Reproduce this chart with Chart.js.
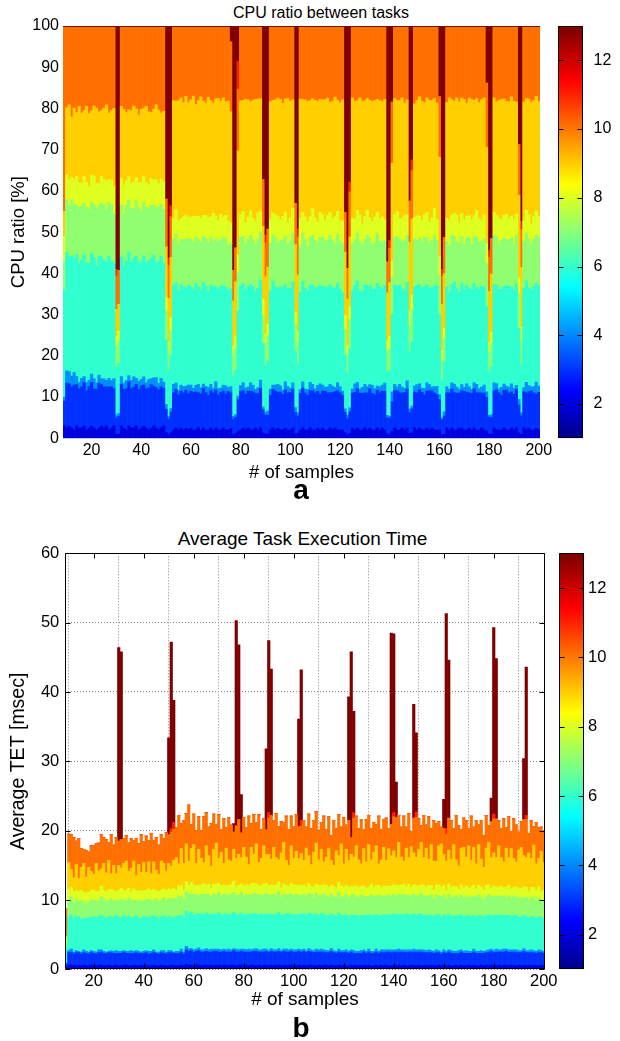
<!DOCTYPE html>
<html>
<head>
<meta charset="utf-8">
<script src="https://cdn.jsdelivr.net/npm/chart.js@4.4.1/dist/chart.umd.min.js"></script>
<style>
  html, body { margin: 0; padding: 0; background: #fff; }
  body { width: 620px; height: 1041px; position: relative; overflow: hidden; font-family: "Liberation Sans", Arial, sans-serif; }
  canvas { position: absolute; }
  .txt { position: absolute; line-height: 1; white-space: nowrap; color: #000; text-align: center; }
</style>
</head>
<body>
<div class="txt" style="left:171px;width:300px;top:4.8px;font-size:16px">CPU ratio between tasks</div>
<canvas id="cpuChart" width="570" height="490" style="left:0;top:0"></canvas>
<canvas id="cpuBar" width="80" height="470" style="left:540px;top:0"></canvas>
<div class="txt" style="left:271px;width:60px;top:476.3px;font-size:28px;font-weight:bold">a</div>

<div class="txt" style="left:152.5px;width:300px;top:528.9px;font-size:19px">Average Task Execution Time</div>
<canvas id="tetChart" width="575" height="500" style="left:0;top:520px"></canvas>
<canvas id="tetBar" width="80" height="500" style="left:540px;top:520px"></canvas>
<div class="txt" style="left:271px;width:60px;top:1014.3px;font-size:28px;font-weight:bold">b</div>

<script>
// samples 9..200, one bar per sample
const firstSample = 9;
const lastSample = 200;
const samples = [];
for (let s = firstSample; s <= lastSample; s++) samples.push(s);

const xTicks = [20, 40, 60, 80, 100, 120, 140, 160, 180, 200];
const cpuTicks = [0, 10, 20, 30, 40, 50, 60, 70, 80, 90, 100];
const tetTicks = [0, 10, 20, 30, 40, 50, 60];
const taskTicks = [2, 4, 6, 8, 10, 12];

// jet colours of the tasks (1..13)
const taskColors = {
  2: '#0000df', 3: '#0030ff', 4: '#008fff', 6: '#30ffcf', 7: '#8fff70',
  8: '#dfff20', 9: '#ffcf00', 10: '#ff7000', 11: '#ff2000', 13: '#800000'
};

// ---- (a) CPU share per task (normalised to 100 below)
const cpuTask2 = [
  3,2.5,3,2.5,2,3,2.5,2.5,3,2,2.5,3,2.5,2,2.5,3,
  2.5,3,2,2.5,3,2.5,2.5,3,2.5,2,3,2.5,2.5,3,2,2.5,
  3,2.5,2,2.5,3,2.5,2,2.5,3,2.5,2,2.5,2,2.5,2,2.5,
  2,2.5,2,2.5,2,2,2.5,2,2.5,2,2,2.5,2,2.5,2,2,
  2.5,2,2,2.5,2,2.5,2,2,2.5,2,2.5,2,2,2.5,2,2.5,
  2,2.5,2,2,2.5,2,2.5,2,2,2.5,2,2,2.5,2,2.5,2,
  2.5,2,2,2.5,2,2,2.5,2,2.5,2,2,2.5,2,2.5,2,2,
  2,2.5,2,2,2.5,2,2.5,2,2,2.5,2,2.5,2,2,2.5,2,
  2.5,2,2.5,2,2,2.5,2,2,2.5,2,2.5,2,2,2.5,2,2.5,
  2,2,2.5,2,2.5,2,2,2.5,2,2,2.5,2,2.5,2,2,2.5,
  2.5,2,2,2.5,2,2.5,2,2,2.5,2,2,2.5,2,2.5,2,2,
  2,2.5,2,2,2.5,2,2.5,2,2,2.5,2,2.5,2,2,2.5,2
];
const cpuTask3 = [
  6,11,10.5,10,11,10,9.5,10,10.5,9.5,10,10.5,9.5,10,11,10,
  10,9.5,10.5,10,9,10,10.5,10,9.5,10,10.5,9.5,10,10,9.5,10.5,
  10,9.5,10,10.5,9.5,10,9.5,10,9,9.5,9,9.5,9,9.5,8.5,9,
  9,9.5,8.5,9,9.5,9,8.5,9,9.5,9,8.5,9,9,9.5,8.5,9,
  9,8.5,9.5,9,9,8.5,9,9.5,9,8.5,9,9.5,9,8.5,9,9.5,
  9,9.5,9,8.5,9,9.5,9,9,8.5,9.5,9,9,9.5,9,8.5,9,
  9.5,9,8.5,9,9.5,9,9,8.5,9,9.5,9,8.5,9,9,9.5,9,
  8.5,9,9.5,9,8.5,9,9.5,9,9,8.5,9,9.5,9,8.5,9,9,
  9,9.5,9,8.5,9,9,9.5,9,8.5,9,9.5,9,9,8.5,9,9.5,
  9,8.5,9,9.5,9,9,8.5,9,9.5,9,8.5,9,9.5,9,9,8.5,
  9,9.5,9,8.5,9,9.5,9,9,8.5,9,9.5,9,8.5,9,9.5,9,
  8.5,9,9.5,9,9,8.5,9,9.5,9,8.5,9,9,9.5,9,8.5,9
];
const cpuTask4 = [
  1,3,3,2.5,3,2,1.5,2,1.5,2,1.5,2,2.5,1.5,2,1.5,
  2,1.5,2,1.5,2.5,2,1.5,2,1.5,2,1.5,2,2.5,1.5,2,1.5,
  2,1.5,2,1.5,2,2.5,1.5,2,1.5,2,1.5,1.5,2,1.5,1,1.5,
  1.5,1,2,1.5,1,1.5,2,1.5,1,1.5,2,1.5,1,2,1.5,1,
  1.5,2,1,1.5,2,1.5,1,1.5,2,1.5,1,2,1.5,1,1.5,2,
  1,1.5,2,1.5,1,1.5,2,1.5,1,2,1.5,1,1.5,2,1.5,1,
  1.5,1,1.5,2,1.5,1,1.5,2.5,1.5,1,1.5,2,1.5,1,2,1.5,
  1,1.5,2,1.5,1,2,1.5,1,1.5,2,1.5,1,2,1.5,1,1.5,
  1.5,2,1.5,1,3,1.5,1,2,1.5,1,2,1.5,1,1.5,2,1.5,
  1,1.5,2,1.5,1,1.5,2,1.5,1,2,1.5,1,1.5,2,1.5,1,
  1.5,1,2,1.5,1,1.5,2,1,1.5,2,1.5,1,1.5,2,1.5,1,
  2,1.5,1,1.5,2,1.5,1,2,1.5,1,2.5,1.5,1,1.5,3,1.5
];
const cpuTask6 = [
  26,29,28.5,29,28,29.5,29,28.5,29.5,29,28,29,29.5,28.5,29,29.5,
  29,28.5,29.5,29,28,29,29.5,29,28.5,29,29.5,28.5,29,29.5,28,29,
  29.5,29,28.5,29,29.5,28.5,29,29.5,28.5,27,26,24.5,24,24.5,24,24.5,
  24,24.5,23.5,24,24.5,24,23.5,24,24.5,24,23.5,24,24.5,23.5,24,24.5,
  24,23.5,24,24.5,24,23.5,24,24.5,24,23.5,24.5,24,23.5,24,24.5,24,
  24.5,24,23.5,24,24.5,24,24,23.5,24.5,24,23.5,24,24.5,24,23.5,24,
  24,24.5,24,23.5,24,24.5,24,23.5,24,24.5,24,24,23.5,24.5,24,23.5,
  24,23.5,24.5,24,24,23.5,24.5,24,23.5,24,24.5,24,23.5,24,24.5,24,
  23.5,24,24.5,24,23.5,24,24.5,24,24,23.5,24,24.5,24,23.5,24,24.5,
  24,24.5,24,23.5,24,24.5,24,24,23.5,24.5,24,23.5,24,24.5,24,23.5,
  24.5,24,23.5,24,24.5,24,23.5,24,24.5,24,24,23.5,24.5,24,23.5,24,
  24,23.5,24,24.5,24,23.5,24,24.5,24,23.5,24.5,24,23.5,24,24.5,24
];
const cpuTask7 = [
  7,13,12.5,13.5,13,12,13.5,13,12.5,13.5,13,12.5,13,14,12.5,13,
  13.5,12.5,13,13.5,12,13,13.5,12.5,13,13.5,12.5,13,12,13.5,13,12.5,
  13,13.5,12.5,13,12,13.5,13,12.5,13,12,11.5,11.5,11,12,11.5,11,
  11.5,12,11,11.5,12,11,11.5,12,11,11.5,12,11.5,11,12,11.5,11,
  12,11.5,11,11.5,12,11.5,11,12,11.5,11,11.5,12,11,11.5,12,11.5,
  11,11.5,12,11.5,11,12,11.5,11,11.5,12,11,11.5,12,11.5,11,11.5,
  11.5,12,11,11.5,12,11.5,11,11.5,12,11,11.5,12,11.5,11,12,11.5,
  12,11.5,11,12,11.5,11,11.5,12,11.5,11,12,11.5,11,11.5,12,11,
  11.5,11,12,11.5,11,11.5,12,11,11.5,12,11.5,11,12,11.5,11,11.5,
  11,12,11.5,11,11.5,12,11,11.5,12,11.5,11,11.5,12,11,11.5,12,
  11.5,11,11.5,12,11,11.5,12,11.5,11,11.5,12,11,11.5,12,11.5,11,
  12,11.5,11,11.5,12,11,11.5,12,11.5,11,11.5,12,11,11.5,12,11.5
];
const cpuTask8 = [
  6,6,6.5,5.5,6,7,6,5.5,6.5,6,5.5,6.5,7,6,5.5,6.5,
  6,7,5.5,6,6.5,6,5.5,6.5,7,6,5.5,6,6.5,5.5,6,7,
  6.5,6,5.5,6.5,6,7,5.5,6,6.5,5.5,5,5.5,5,6,5.5,5,
  5.5,6,5,5.5,6.5,5,5.5,6,5,5.5,6,5,6.5,5.5,5,6,
  5,5.5,6,5,5.5,6.5,5,5.5,6,5,5.5,6,5,5.5,6.5,5,
  6,5,5.5,6,5,5.5,6.5,5,5.5,6,5,5.5,6,5,5.5,6.5,
  5,5.5,6,5,6.5,5.5,5,6,5.5,5,6,5.5,5,6.5,5.5,5,
  5.5,6,5,5.5,6,5,5.5,6.5,5,5.5,6,5,5.5,6,5,5.5,
  6,5,5.5,6.5,5,5.5,6,5,5.5,6,5,6.5,5.5,5,6,5.5,
  5,5.5,6,5,5.5,6.5,5,5.5,6,5,5.5,6,5,5.5,6.5,5,
  5.5,6,5,5.5,6,5,6.5,5.5,5,6,5.5,5,6,5.5,5,6.5,
  5,5.5,6,5,5.5,6,5,5.5,6.5,5,5.5,6,5,5.5,6,5
];
const cpuTask9 = [
  6,16.5,18.5,14.5,17.5,15.5,18.5,17,16,18.5,17.5,15.5,17,18.5,17.5,16,
  17.5,18.5,16,17,19,17,16,17.5,18.5,16.5,16,17.5,18.5,16.5,16,18,
  16.5,18.5,17.5,16,17,18.5,17.5,16,17,21,25,27.5,28.5,26.5,29,29.5,
  27.5,29.5,27,28.5,30,26.5,28,30,27.5,27,29.5,28,26.5,29,29.5,27,
  29,27,29.5,28,26.5,28.5,29.5,28,27,29.5,28.5,26.5,28,30,28,27,
  28,29.5,27,28.5,26.5,28,29.5,28.5,27,28,30,28,26.5,28.5,28,29.5,
  27,28.5,29.5,28,26.5,28.5,29.5,27,28,29.5,28.5,26.5,28,29.5,27,28.5,
  29.5,28,27,28.5,29.5,28,26.5,28.5,30,28,27,28.5,29.5,28,27,28.5,
  28,29.5,27,28.5,29.5,28,27,28.5,29.5,27,28,29.5,28.5,27,28,29.5,
  28.5,27,28,29.5,28.5,26.5,28,29.5,28.5,27,28,30,28,27,28.5,29.5,
  28,29.5,27,28.5,29.5,28,27,28,29.5,28.5,27,28,29.5,28,27,28.5,
  29.5,28,27,28.5,29.5,28,26.5,28.5,29.5,28,27,28.5,29.5,28,28.5,27.5
];
const cpuTask10 = [
  45,20,19.5,22,20,21,19.5,21,20.5,19.5,21,20.5,19.5,20,21,20.5,
  20,19,21,20.5,20,20.5,20,19.5,20.5,21,20,20.5,19.5,20,21,20.5,
  20,19.5,20.5,21,20,19.5,20,21,20.5,20,19,18.5,18,18.5,18,17.5,
  18.5,17.5,18,18,17.5,18.5,18,17.5,18,18.5,17.5,18,18.5,18,17.5,18,
  17.5,18,18.5,17.5,18,18,17.5,18.5,18,17.5,18,18.5,17.5,18,18,17.5,
  18,17.5,18,18.5,17.5,18,18,17.5,18.5,18,17.5,18,18,17.5,18.5,18,
  17.5,18,18.5,18,17.5,18,18.5,17.5,18,18,17.5,18.5,18,17.5,18,18.5,
  18,17.5,18,18.5,17.5,18,18,17.5,18.5,18,17.5,18,18.5,18,17.5,18,
  18.5,18,17.5,18,18.5,17.5,18,18,17.5,18.5,18,17.5,18,18.5,18,17.5,
  18,18.5,17.5,18,18,17.5,18.5,18,17.5,18,18.5,17.5,18,18,17.5,18.5,
  17.5,18,18.5,17.5,18,18,17.5,18.5,18,17.5,18,18.5,18,17.5,18,18,
  18,17.5,18,18.5,17.5,18,18,17.5,18.5,18,17.5,18,18.5,18,17.5,18
];

// ---- (b) average execution time per task [msec]
const tetTask2 = [
  .3,.6,.6,.5,.6,.5,.5,.6,.5,.5,.6,.5,.5,.6,.6,.5,
  .5,.6,.5,.5,.6,.5,.5,.6,.6,.5,.5,.6,.5,.5,.6,.5,
  .6,.5,.5,.6,.5,.5,.6,.5,.5,.5,.6,.6,.5,.5,.6,.5,
  .7,.6,.6,.5,.6,.6,.5,.6,.6,.5,.6,.5,.6,.6,.5,.6,
  .6,.5,.6,.6,.5,.6,.6,.5,.6,.5,.6,.6,.5,.6,.5,.6,
  .6,.5,.6,.5,.6,.6,.5,.6,.5,.6,.6,.5,.5,.6,.5,.6,
  .5,.6,.6,.5,.5,.6,.5,.6,.6,.5,.6,.5,.5,.6,.5,.6,
  .5,.5,.6,.5,.6,.5,.5,.6,.5,.6,.5,.5,.6,.5,.6,.5,
  .6,.5,.5,.6,.5,.6,.5,.6,.5,.5,.6,.6,.5,.6,.5,.5,
  .6,.5,.6,.5,.5,.6,.5,.6,.5,.6,.5,.5,.6,.5,.6,.5,
  .5,.6,.5,.6,.5,.5,.6,.5,.6,.5,.6,.5,.5,.6,.5,.6,
  .6,.5,.6,.5,.5,.6,.5,.6,.5,.6,.5,.6,.5,.5,.6,.5
];
const tetTask3 = [
  .5,1.8,1.9,1.7,1.8,1.9,1.7,1.8,1.8,1.7,1.9,1.8,1.7,1.8,1.9,1.8,
  1.7,1.8,1.9,1.8,1.7,1.8,1.8,1.9,1.7,1.8,1.8,1.7,1.9,1.8,1.7,1.8,
  1.8,1.7,1.8,1.9,1.8,1.7,1.8,1.8,1.7,1.9,1.8,1.7,1.8,1.8,1.9,1.7,
  2.1,2.0,2.1,1.9,2.0,2.1,2.0,1.9,2.0,2.0,1.9,2.1,2.0,1.9,2.0,2.0,
  1.9,2.0,1.9,2.1,2.0,1.9,2.0,2.0,1.9,2.0,1.9,2.0,2.1,1.9,2.0,1.9,
  2.0,1.9,2.0,2.0,1.9,2.0,1.9,2.0,2.0,1.9,2.0,1.9,2.0,2.0,1.9,2.0,
  1.9,2.0,1.9,1.9,2.0,1.9,2.0,1.9,1.8,1.9,2.0,1.9,1.8,1.9,1.9,1.8,
  1.9,1.8,1.9,1.8,1.7,1.8,1.8,1.9,1.8,1.9,1.8,1.8,1.9,1.8,1.9,1.9,
  1.9,2.0,1.9,1.9,2.0,1.9,2.0,1.9,1.9,2.0,1.9,1.9,2.0,1.9,2.0,1.9,
  1.8,1.9,1.8,1.8,1.9,1.8,1.7,1.8,1.8,1.9,1.8,1.8,1.7,1.8,1.9,1.8,
  1.8,1.7,1.8,1.9,1.8,1.8,1.7,1.8,1.8,1.9,2.0,1.9,2.0,1.9,2.0,1.9,
  2.0,1.9,1.9,2.0,1.9,1.8,1.9,2.0,1.9,1.8,1.9,1.8,1.8,1.9,1.8,1.8
];
const tetTask4 = [
  .1,.3,.4,.3,.3,.2,.3,.4,.3,.3,.2,.3,.3,.4,.3,.3,
  .3,.2,.3,.3,.4,.3,.3,.2,.3,.3,.4,.3,.3,.3,.2,.3,
  .3,.4,.3,.3,.2,.3,.3,.4,.3,.3,.3,.2,.3,.3,.4,.3,
  .5,.4,.3,.4,.3,.4,.3,.3,.4,.3,.4,.3,.3,.4,.3,.3,
  .3,.4,.3,.3,.4,.3,.3,.4,.3,.4,.3,.3,.4,.3,.3,.4,
  .3,.3,.4,.3,.3,.4,.3,.3,.4,.3,.3,.4,.3,.3,.4,.3,
  .3,.4,.3,.3,.4,.3,.4,.3,.3,.3,.4,.3,.3,.4,.3,.3,
  .4,.3,.3,.4,.3,.3,.4,.3,.3,.4,.3,.3,.4,.3,.3,.4,
  .3,.3,.4,.3,.3,.4,.3,.3,.4,.3,.3,.4,.3,.3,.3,.4,
  .3,.4,.3,.3,.4,.3,.3,.4,.3,.3,.4,.3,.3,.4,.3,.3,
  .4,.3,.3,.4,.3,.3,.4,.3,.3,.4,.3,.3,.4,.3,.3,.4,
  .3,.4,.3,.3,.4,.3,.3,.4,.3,.3,.4,.3,.3,.4,.3,.3
];
const tetTask6 = [
  2.3,4.9,5.0,4.8,4.9,5.0,4.7,4.6,4.8,4.9,4.8,5.0,4.9,4.8,5.0,4.9,
  4.8,5.0,4.9,4.8,5.1,4.9,4.8,5.0,4.9,5.1,4.8,4.9,5.0,4.8,4.9,5.0,
  4.9,4.8,5.0,4.9,5.1,4.8,4.9,5.0,4.9,5.0,4.8,4.9,5.0,5.1,4.9,5.0,
  5.1,5.0,5.2,5.0,5.1,4.9,5.2,5.0,5.1,5.2,5.0,5.1,5.0,5.2,5.1,5.0,
  5.2,5.0,5.1,5.2,5.0,5.1,5.2,5.0,5.1,5.0,5.2,5.1,5.0,5.1,5.2,5.0,
  5.1,5.2,5.0,5.1,5.0,5.2,5.1,5.0,5.1,5.2,5.0,5.1,5.1,5.0,5.2,5.1,
  5.0,5.1,5.2,5.0,5.1,5.0,5.1,5.2,5.0,5.1,5.0,5.1,5.0,5.2,5.1,5.0,
  5.1,5.0,5.0,5.1,5.2,5.0,5.1,5.0,5.1,5.0,5.2,5.1,5.0,5.1,5.0,5.1,
  5.0,5.1,5.0,5.2,5.1,5.0,5.1,5.0,5.2,5.1,5.0,5.1,5.0,5.1,5.2,5.0,
  5.1,5.0,5.1,5.0,5.1,5.2,5.0,5.1,5.0,5.1,5.0,5.0,5.1,5.0,5.1,5.0,
  5.0,5.1,5.0,4.9,5.0,5.1,5.0,4.9,5.0,5.1,4.9,5.0,5.0,4.9,5.0,4.9,
  4.9,5.0,4.8,4.9,5.0,4.8,4.9,4.8,4.9,4.7,4.8,4.9,4.7,4.8,4.8,4.7
];
const tetTask7 = [
  .6,2.4,2.6,2.3,2.5,2.2,2.7,2.4,2.0,2.3,2.6,2.4,2.5,2.2,2.6,2.7,
  2.5,2.3,2.6,2.4,2.2,2.5,2.7,2.4,2.3,2.6,2.4,2.5,2.2,2.6,2.4,2.3,
  2.5,2.7,2.4,2.2,2.6,2.5,2.3,2.6,2.4,2.5,2.7,2.8,2.6,2.9,2.7,2.6,
  2.8,2.9,2.7,3.0,2.8,2.6,2.9,3.0,2.7,2.8,2.6,2.9,2.8,3.0,2.7,2.9,
  2.8,2.7,3.0,2.9,2.7,2.8,3.0,2.6,2.9,2.8,2.7,3.0,2.8,2.9,2.7,2.8,
  3.0,2.8,2.7,2.9,2.8,3.0,2.6,2.9,2.7,2.8,3.0,2.7,2.9,2.8,2.6,2.9,
  2.7,2.9,2.8,2.6,3.0,2.8,2.7,2.9,2.8,2.6,2.9,2.7,2.8,3.0,2.7,2.8,
  2.9,2.7,2.8,3.0,2.6,2.8,2.9,2.7,2.8,2.6,2.9,2.8,2.7,3.0,2.8,2.6,
  2.8,2.9,2.7,2.8,2.6,2.9,2.8,3.0,2.7,2.8,2.6,2.9,2.8,2.7,3.0,2.8,
  2.7,2.8,2.9,2.6,2.8,2.7,3.0,2.8,2.6,2.9,2.7,2.8,2.9,2.6,2.8,2.7,
  2.8,2.6,2.9,2.7,2.8,3.0,2.7,2.6,2.8,2.9,2.7,2.8,2.6,2.9,2.7,2.8,
  2.6,2.8,2.7,2.9,2.6,2.8,2.7,2.5,2.8,2.6,2.7,2.9,2.6,2.7,2.5,2.7
];
const tetTask8 = [
  .5,1.5,1.3,1.6,1.2,1.4,1.5,1.3,1.6,1.4,1.2,1.5,1.3,1.4,1.6,1.2,
  1.4,1.6,1.3,1.5,1.2,1.4,1.6,1.3,1.5,1.4,1.2,1.6,1.4,1.3,1.5,1.4,
  1.3,1.5,1.4,1.6,1.2,1.4,1.5,1.3,1.6,1.4,1.3,1.5,1.2,1.4,1.6,1.3,
  1.5,1.3,1.6,1.4,1.2,1.5,1.3,1.6,1.4,1.5,1.2,1.4,1.6,1.3,1.5,1.4,
  1.2,1.5,1.4,1.6,1.3,1.4,1.2,1.5,1.4,1.3,1.6,1.4,1.5,1.2,1.4,1.6,
  1.4,1.3,1.5,1.2,1.6,1.4,1.3,1.5,1.4,1.2,1.5,1.6,1.3,1.4,1.5,1.3,
  1.5,1.4,1.2,1.6,1.3,1.5,1.4,1.3,1.6,1.4,1.2,1.5,1.3,1.4,1.6,1.3,
  1.3,1.5,1.4,1.2,1.6,1.4,1.3,1.5,1.2,1.4,1.6,1.3,1.5,1.4,1.2,1.5,
  1.4,1.2,1.5,1.4,1.6,1.3,1.4,1.5,1.2,1.6,1.4,1.3,1.5,1.4,1.2,1.6,
  1.3,1.5,1.4,1.2,1.5,1.6,1.3,1.4,1.2,1.5,1.4,1.6,1.3,1.2,1.5,1.4,
  1.5,1.3,1.4,1.6,1.2,1.4,1.5,1.3,1.6,1.4,1.2,1.5,1.4,1.3,1.5,1.2,
  1.4,1.6,1.3,1.2,1.5,1.4,1.3,1.6,1.4,1.2,1.5,1.3,1.4,1.6,1.2,1.4
];
const tetTask9 = [
  .5,3.9,2.6,2.0,3.8,1.9,3.3,4.2,2.3,3.6,2.8,2.2,4.1,3.0,2.5,3.9,
  2.7,4.2,2.3,3.7,2.6,3.6,2.9,3.9,4.3,2.4,3.5,4.0,2.2,3.8,2.7,4.1,
  2.6,3.9,2.4,4.0,2.9,2.5,4.2,3.7,2.8,3.7,3.4,4.0,4.7,3.2,5.3,3.9,
  5.4,3.4,4.9,5.8,3.3,5.2,3.8,3.0,5.6,4.1,3.2,5.0,5.9,3.6,4.8,3.1,
  5.5,3.7,3.3,4.6,4.1,4.5,3.8,5.6,4.0,3.1,5.3,4.2,5.8,3.4,3.9,5.5,
  4.1,4.6,3.7,5.6,3.9,3.2,5.1,6.0,3.6,3.0,5.4,3.8,4.9,3.9,4.6,3.5,
  5.6,4.0,3.1,5.0,5.9,3.7,5.2,3.3,4.1,5.7,3.6,3.0,5.4,3.9,6.0,3.4,
  5.2,3.9,4.6,4.2,5.8,4.0,3.2,5.4,3.8,6.1,3.5,5.1,5.7,3.1,4.0,5.6,
  3.7,5.4,4.4,4.9,4.0,6.2,4.1,3.3,5.6,3.8,5.9,4.6,4.1,5.3,6.1,3.9,
  5.7,3.8,5.9,4.2,3.4,5.6,6.3,4.5,4.2,4.9,4.1,6.0,3.9,3.4,5.3,5.9,
  4.2,6.2,3.8,5.5,3.6,5.9,4.0,3.3,5.4,6.1,4.4,4.8,4.2,5.9,4.1,3.7,
  5.7,3.9,5.8,4.2,3.6,5.5,6.0,4.5,4.3,5.6,4.2,6.1,3.9,4.1,5.8,4.0
];
const tetTask10 = [
  3.9,4.1,5.0,5.8,3.4,5.8,2.7,2.0,3.8,2.2,3.7,4.1,2.8,4.0,4.9,3.7,
  4.8,2.6,5.6,2.9,5.2,3.5,4.1,3.5,3.7,4.2,4.2,3.0,5.4,3.0,5.4,3.0,
  5.2,3.1,5.8,3.1,4.7,4.2,3.8,3.5,5.5,4.1,4.9,4.5,4.3,7.0,3.6,6.1,
  4.4,8.1,3.5,4.4,4.7,4.7,4.0,6.6,4.8,4.1,6.1,5.1,2.7,6.3,3.3,6.4,
  2.9,6.1,5.2,2.5,4.7,5.0,3.6,4.3,4.2,7.0,3.4,5.7,3.1,6.9,4.1,3.9,
  3.6,5.2,6.3,3.8,6.4,4.8,4.5,2.9,6.4,5.1,4.3,4.6,5.3,4.6,4.0,5.8,
  3.0,6.0,5.2,4.6,4.5,4.2,3.9,6.6,3.9,4.5,3.6,6.5,3.2,5.9,2.4,6.7,
  3.5,5.8,2.4,5.6,4.3,4.5,6.4,2.8,6.1,4.2,4.5,4.3,3.1,6.9,4.4,4.0,
  6.1,2.9,4.5,4.9,5.8,3.9,4.3,6.5,3.0,6.4,2.2,5.0,5.7,4.4,2.4,6.1,
  3.3,6.1,2.3,5.8,5.4,3.5,2.4,3.7,3.9,4.6,5.5,2.3,6.4,5.8,2.7,4.2,
  5.2,2.5,6.4,2.9,6.3,2.9,5.6,4.6,4.7,2.4,5.2,4.9,5.6,3.6,4.2,6.2,
  2.9,5.9,2.5,5.7,5.3,2.6,3.7,5.2,5.5,2.8,5.4,2.7,6.0,4.4,3.5,4.6
];

// ---- the bursts of task 13 (and a little of task 11) in both panels
const spikeSamples   = [30,31, 50,51,52, 76,77,78,79, 89,90,91, 102,103, 122,123,124, 139,140,141, 148,149, 160,161,162, 179,180,181, 192,193];
const cpuTask13Spike = [150,144, 72,133,82, 4,144,117,10, 59,108,96, 75,100, 82,141,64, 133,113,23, 75,50, 21,150,104, 16,122,108, 41,96];
const cpuTask11Spike = [4,0, 0,4,5, 0,0,0,8, 0,4,0, 0,4, 0,0,4, 0,4,0, 0,4, 0,4,0, 0,4,0, 0,4];
const tetTask13Spike = [27.9,27.1, 14.0,26.9,17.6, 1.2,29.6,25.2,5.5, 11.7,24.8,21.1, 15.5,21.7, 17.8,26.8,14.6, 27.6,25.8,5.1, 16.4,11.4, 4.2,31.0,22.8, 3.4,26.9,23.1, 8.8,21.4];
const tetTask11Spike = [0,0, 0,.5,1.0, 0,0,0,0, 0,.8,0, 0,.8, 0,0,.8, 0,.6,0, 0,.8, 0,.8,0, 0,.7,0, 0,.6];

// ---------------------------------------------------------------------
function spread(values) {
  const out = samples.map(() => 0);
  spikeSamples.forEach((s, j) => { out[s - firstSample] = values[j]; });
  return out;
}

const cpuLayers = [
  [2, cpuTask2], [3, cpuTask3], [4, cpuTask4], [6, cpuTask6], [7, cpuTask7], [8, cpuTask8],
  [9, cpuTask9], [10, cpuTask10], [11, spread(cpuTask11Spike)], [13, spread(cpuTask13Spike)]
];
const tetLayers = [
  [2, tetTask2], [3, tetTask3], [4, tetTask4], [6, tetTask6], [7, tetTask7], [8, tetTask8],
  [9, tetTask9], [10, tetTask10], [11, spread(tetTask11Spike)], [13, spread(tetTask13Spike)]
];
cpuLayers.concat(tetLayers).forEach(([task, arr], k) => {
  if (arr.length !== samples.length) throw new Error('layer ' + k + ' (task ' + task + ') has ' + arr.length + ' values');
});

// panel (a) is a share of CPU time: every column adds up to 100 %
const cpuTotals = samples.map((s, i) => cpuLayers.reduce((sum, [, arr]) => sum + arr[i], 0));

function makeSet(task, data) {
  return {
    label: 'Task ' + task,
    data: data,
    backgroundColor: taskColors[task],
    borderWidth: 0,
    barPercentage: 1,
    categoryPercentage: 1
  };
}
const cpuSets = cpuLayers.map(([task, arr]) => makeSet(task, arr.map((v, i) => v / cpuTotals[i] * 100)));
const tetSets = tetLayers.map(([task, arr]) => makeSet(task, arr));

// ---------------------------------------------------------------------
Chart.defaults.font.family = '"Liberation Sans", Arial, sans-serif';
Chart.defaults.color = '#000';

// axes box and inward tick marks, like the original figure
const framePlugin = {
  id: 'frame',
  afterDatasetsDraw(chart, args, opts) {
    const { ctx, chartArea: a } = chart;
    const L = Math.round(a.left) + 0.5, R = Math.round(a.right) - 0.5;
    const T = Math.round(a.top) + 0.5, B = Math.round(a.bottom) - 0.5;
    ctx.save();
    ctx.strokeStyle = opts.color || '#000';
    ctx.lineWidth = 1;
    ctx.beginPath();
    if (opts.topOnly) {
      ctx.moveTo(L - 0.5, T); ctx.lineTo(R + 0.5, T);
    } else {
      ctx.rect(L, T, R - L, B - T);
    }
    const len = opts.tickLength || 0;
    if (len) {
      (opts.tickAxes || []).forEach(id => {
        const sc = chart.scales[id];
        sc.ticks.forEach(t => {
          const p = Math.round(sc.getPixelForValue(t.value)) + 0.5;
          if (sc.isHorizontal()) {
            ctx.moveTo(p, B); ctx.lineTo(p, B - len);
            ctx.moveTo(p, T); ctx.lineTo(p, T + len);
          } else {
            ctx.moveTo(L, p); ctx.lineTo(L + len, p);
            ctx.moveTo(R, p); ctx.lineTo(R - len, p);
          }
        });
      });
    }
    ctx.stroke();
    ctx.restore();
  }
};

function fixedTicks(list) {
  return scale => { scale.ticks = list.map(v => ({ value: v })); };
}

function stackedOptions(cfg) {
  return {
    responsive: false,
    animation: false,
    events: [],
    layout: { padding: cfg.padding },
    plugins: { legend: { display: false }, tooltip: { enabled: false }, frame: cfg.frame },
    scales: {
      x: {
        type: 'linear', stacked: true, min: 8.5, max: 200.5, offset: false,
        grid: { display: cfg.grid, drawTicks: false, color: '#8a8a8a', lineWidth: 1 },
        border: { display: false, dash: [1, 2] },
        afterBuildTicks: fixedTicks(xTicks),
        ticks: { padding: cfg.xPad, maxRotation: 0, autoSkip: false, font: { size: cfg.tickSize } },
        title: { display: true, text: '# of samples', font: { size: cfg.labelSize }, padding: { top: 0, bottom: cfg.xTitlePad } },
        afterFit: s => { s.height = cfg.xHeight; s.paddingLeft = 0; s.paddingRight = 0; }
      },
      y: {
        stacked: true, min: 0, max: cfg.yMax,
        grid: { display: cfg.grid, drawTicks: false, color: '#8a8a8a', lineWidth: 1 },
        border: { display: false, dash: [1, 2] },
        afterBuildTicks: fixedTicks(cfg.yTicks),
        ticks: { padding: cfg.yPad, font: { size: cfg.tickSize } },
        title: { display: true, text: cfg.yTitle, font: { size: cfg.yLabelSize }, padding: { top: cfg.yTitlePad, bottom: 0 } },
        afterFit: s => { s.width = cfg.yWidth; s.paddingTop = 0; s.paddingBottom = 0; }
      }
    }
  };
}

new Chart(document.getElementById('cpuChart'), {
  type: 'bar',
  data: { labels: samples, datasets: cpuSets },
  options: stackedOptions({
    padding: { left: 0, top: 26, right: 30, bottom: 0 },
    frame: { topOnly: true, color: '#6e1608' },
    grid: false, xPad: 2.4, tickSize: 16, labelSize: 18.5, xTitlePad: 5.9, xHeight: 490 - 438.3,
    yMax: 100, yTicks: cpuTicks, yPad: 4, yTitle: 'CPU ratio [%]', yLabelSize: 18.5, yTitlePad: 8, yWidth: 63
  }),
  plugins: [framePlugin]
});

new Chart(document.getElementById('tetChart'), {
  type: 'bar',
  data: { labels: samples, datasets: tetSets },
  options: stackedOptions({
    padding: { left: 0, top: 33.3, right: 30, bottom: 0 },
    frame: { color: '#000', tickLength: 5, tickAxes: ['x', 'y'] },
    grid: true, xPad: 2.5, tickSize: 16.5, labelSize: 19, xTitlePad: 8.6, xHeight: 500 - 449.3,
    yMax: 60, yTicks: tetTicks, yPad: 5.7, yTitle: 'Average TET [msec]', yLabelSize: 19.5, yTitlePad: 6.6, yWidth: 65
  }),
  plugins: [framePlugin]
});

// ---- colour bars (jet, tasks 1..13)
const taskRange = [1, 13];
const jetStops = [
  [0, '#000090'], [0.0078, '#000090'], [0.1172, '#0000ff'], [0.3672, '#00ffff'],
  [0.6172, '#ffff00'], [0.8672, '#ff0000'], [0.9922, '#800000'], [1, '#800000']
];
function jetFill(context) {
  const { ctx, chartArea } = context.chart;
  if (!chartArea) return '#000';
  const g = ctx.createLinearGradient(0, chartArea.bottom, 0, chartArea.top);
  jetStops.forEach(([t, c]) => g.addColorStop(t, c));
  return g;
}
function colorBar(id, cfg) {
  new Chart(document.getElementById(id), {
    type: 'bar',
    data: {
      labels: ['task'],
      datasets: [{ data: [taskRange], backgroundColor: jetFill, borderWidth: 0, barPercentage: 1, categoryPercentage: 1, inflateAmount: 0 }]
    },
    options: {
      responsive: false,
      animation: false,
      events: [],
      layout: { padding: cfg.padding },
      plugins: { legend: { display: false }, tooltip: { enabled: false }, frame: { color: '#000', tickLength: 5, tickAxes: ['y'] } },
      scales: {
        x: { display: false },
        y: {
          position: 'right', min: taskRange[0], max: taskRange[1],
          grid: { display: false, drawTicks: false },
          border: { display: false },
          afterBuildTicks: fixedTicks(taskTicks),
          ticks: { padding: cfg.pad, font: { size: cfg.size } },
          afterFit: s => { s.width = cfg.width; s.paddingTop = 0; s.paddingBottom = 0; }
        }
      }
    },
    plugins: [framePlugin]
  });
}
colorBar('cpuBar', { padding: { left: 18, top: 26, right: 0, bottom: 470 - 438.3 }, width: 37, pad: 10.5, size: 16 });
colorBar('tetBar', { padding: { left: 19, top: 33.3, right: 0, bottom: 500 - 449.3 }, width: 36, pad: 4, size: 16.5 });
</script>
</body>
</html>
